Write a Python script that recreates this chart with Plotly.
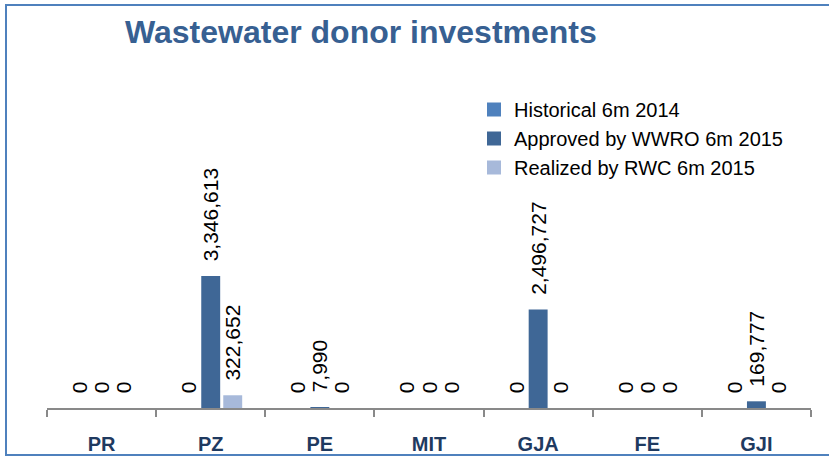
import plotly.graph_objects as go

categories = ["PR", "PZ", "PE", "MIT", "GJA", "FE", "GJI"]
historical_6m_2014 = [0, 0, 0, 0, 0, 0, 0]
approved_wwro_6m_2015 = [0, 3346613, 7990, 0, 2496727, 0, 169777]
realized_rwc_6m_2015 = [0, 322652, 0, 0, 0, 0, 0]

series = [
    ("Historical 6m 2014", historical_6m_2014, "#4F81BD"),
    ("Approved by WWRO 6m 2015", approved_wwro_6m_2015, "#3F6796"),
    ("Realized by RWC 6m 2015", realized_rwc_6m_2015, "#A7B9DA"),
]

FONT = "Liberation Sans"
W, H = 829, 458
ML, MR, MT, MB = 47, 18, 53, 50

fig = go.Figure()
for name, vals, color in series:
    fig.add_trace(go.Bar(
        name=name, x=categories, y=vals,
        marker=dict(color=color, line=dict(width=0)),
        texttemplate="\u00a0\u00a0%{y:,}",
        textposition="outside",
        textangle=-90,
        constraintext="none",
        cliponaxis=False,
        textfont=dict(family=FONT, size=21, color="#000000"),
        showlegend=False,
    ))
# legend-only entries (square swatches)
for name, vals, color in series:
    fig.add_trace(go.Scatter(
        name=name, x=[None], y=[None], mode="markers",
        marker=dict(symbol="square", size=14, color=color),
        showlegend=True, hoverinfo="skip",
    ))

pw = W - ML - MR
ph = H - MT - MB
def px_x(x):
    return (x - ML) / pw
def px_y(y):
    return (H - MB - y) / ph

fig.update_layout(
    template="none",
    width=W, height=H,
    margin=dict(l=ML, r=MR, t=MT, b=MB, autoexpand=False),
    paper_bgcolor="white", plot_bgcolor="white",
    barmode="group", bargap=0.395, bargroupgap=0.14,
    title=dict(
        text="Wastewater donor investments",
        font=dict(family=FONT, size=32, color="#376092", weight="bold"),
        xref="container", yref="container",
        x=125 / W, xanchor="left",
        y=1 - 32 / H, yanchor="middle",
    ),
    legend=dict(
        x=px_x(474), y=px_y(90), xanchor="left", yanchor="top",
        font=dict(family=FONT, size=20, color="#000000"),
        bgcolor="rgba(0,0,0,0)", borderwidth=0,
        itemclick=False,
    ),
    xaxis=dict(
        automargin=False,
        showline=True, linecolor="#898989", linewidth=1.5,
        ticks="outside", tickson="boundaries", ticklen=7,
        tickcolor="#898989", tickwidth=1.5,
        tickfont=dict(family=FONT, size=20, color="#1F3A60", weight="bold"),
        ticklabelstandoff=17,
        showgrid=False, zeroline=False,
    ),
    yaxis=dict(
        automargin=False,
        range=[0, 9000000], visible=False, showgrid=False, zeroline=False,
    ),
    shapes=[dict(
        type="rect", xref="paper", yref="paper",
        x0=px_x(6), x1=px_x(840), y0=px_y(455), y1=px_y(5),
        line=dict(color="#4F81BD", width=2), fillcolor="rgba(0,0,0,0)",
        layer="below",
    )],
)

fig.write_html(
    "out.html",
    config={"displayModeBar": False},
    post_script="document.body.style.margin='0px';",
)
